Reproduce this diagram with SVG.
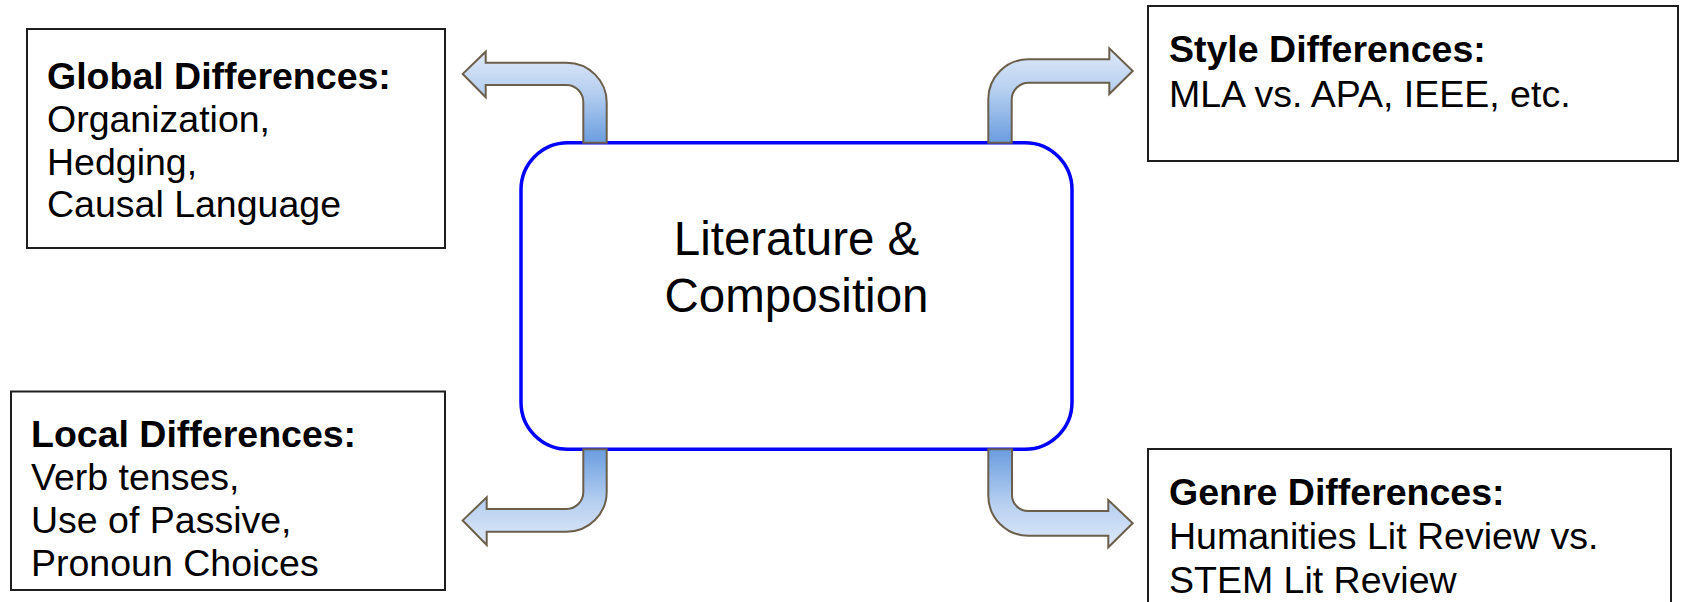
<svg xmlns="http://www.w3.org/2000/svg" width="1700" height="602" viewBox="0 0 1700 602">
  <defs>
    <!-- connector fills: dark end sits at the central box -->
    <linearGradient id="gradUp" x1="0" y1="1" x2="0" y2="0">
      <stop offset="0" stop-color="#6a9ddf"/>
      <stop offset="0.55" stop-color="#b6cff0"/>
      <stop offset="1" stop-color="#dfe9f8"/>
    </linearGradient>
    <linearGradient id="gradDown" x1="0" y1="0" x2="0" y2="1">
      <stop offset="0" stop-color="#6a9ddf"/>
      <stop offset="0.55" stop-color="#b6cff0"/>
      <stop offset="1" stop-color="#dfe9f8"/>
    </linearGradient>
    <style>
      .box { fill: #ffffff; stroke: #1e1e1e; stroke-width: 2; }
      .hub { fill: #ffffff; stroke: #0000ff; stroke-width: 3.5; }
      .arrow { stroke: #6b5f4b; stroke-width: 2; stroke-linejoin: miter; }
      .t { font-family: "Liberation Sans", Arial, sans-serif; font-size: 37.5px; fill: #000000; }
      .b { font-weight: bold; }
      .hubtxt { font-family: "Liberation Sans", Arial, sans-serif; font-size: 47.5px; fill: #000000; text-anchor: middle; }
    </style>
  </defs>

  <rect width="1700" height="602" fill="#ffffff"/>

  <!-- central node -->
  <g id="hub">
    <rect class="hub" x="521" y="142.7" width="551" height="306.6" rx="47" ry="47"/>
    <text class="hubtxt" x="796.5" y="254.5">Literature &amp;</text>
    <text class="hubtxt" x="796.5" y="311.5">Composition</text>
  </g>

  <!-- bent block arrows from the central node -->
  <g id="connectors">
    <path class="arrow" fill="url(#gradUp)" d="M 583.3 142.7 L 583.3 102 A 17 17 0 0 0 566.3 85 L 485.7 85 L 485.7 97.3 L 462.7 73.9 L 485.7 51.7 L 485.7 62.7 L 566.7 62.7 A 40 40 0 0 1 606.7 102.7 L 606.7 142.7 Z"/>
    <path class="arrow" fill="url(#gradUp)" d="M 988.3 142.7 L 988.3 99.3 A 40 40 0 0 1 1028.3 59.3 L 1109.3 59.3 L 1109.3 48.3 L 1132.7 71 L 1109.3 94 L 1109.3 82.7 L 1028.7 82.7 A 17 17 0 0 0 1011.7 99.7 L 1011.7 142.7 Z"/>
    <path class="arrow" fill="url(#gradDown)" d="M 583.3 449.3 L 583.3 492 A 17 17 0 0 1 566.3 509 L 486.7 509 L 486.7 497.3 L 462.7 520.4 L 486.7 545 L 486.7 531.7 L 566.7 531.7 A 40 40 0 0 0 606.7 491.7 L 606.7 449.3 Z"/>
    <path class="arrow" fill="url(#gradDown)" d="M 988.3 449.3 L 988.3 495.7 A 40 40 0 0 0 1028.3 535.7 L 1108.3 535.7 L 1108.3 547.3 L 1132.7 523.3 L 1108.3 500 L 1108.3 511 L 1028 511 A 16 16 0 0 1 1012 495 L 1012 449.3 Z"/>
  </g>

  <g id="global">
    <rect class="box" x="27" y="29" width="418" height="219"/>
    <text class="t b" x="47" y="89">Global Differences:</text>
    <text class="t" x="47" y="132">Organization,</text>
    <text class="t" x="47" y="175">Hedging,</text>
    <text class="t" x="47" y="217">Causal Language</text>
  </g>

  <g id="style">
    <rect class="box" x="1148" y="6" width="530" height="155"/>
    <text class="t b" x="1169" y="62">Style Differences:</text>
    <text class="t" x="1169" y="107">MLA vs. APA, IEEE, etc.</text>
  </g>

  <g id="local">
    <rect class="box" x="11" y="391.5" width="434" height="198.5"/>
    <text class="t b" x="31" y="447">Local Differences:</text>
    <text class="t" x="31" y="490">Verb tenses,</text>
    <text class="t" x="31" y="533">Use of Passive,</text>
    <text class="t" x="31" y="575.5">Pronoun Choices</text>
  </g>

  <g id="genre">
    <rect class="box" x="1148" y="449" width="523" height="170"/>
    <text class="t b" x="1169" y="505">Genre Differences:</text>
    <text class="t" x="1169" y="549">Humanities Lit Review vs.</text>
    <text class="t" x="1169" y="593">STEM Lit Review</text>
  </g>
</svg>
